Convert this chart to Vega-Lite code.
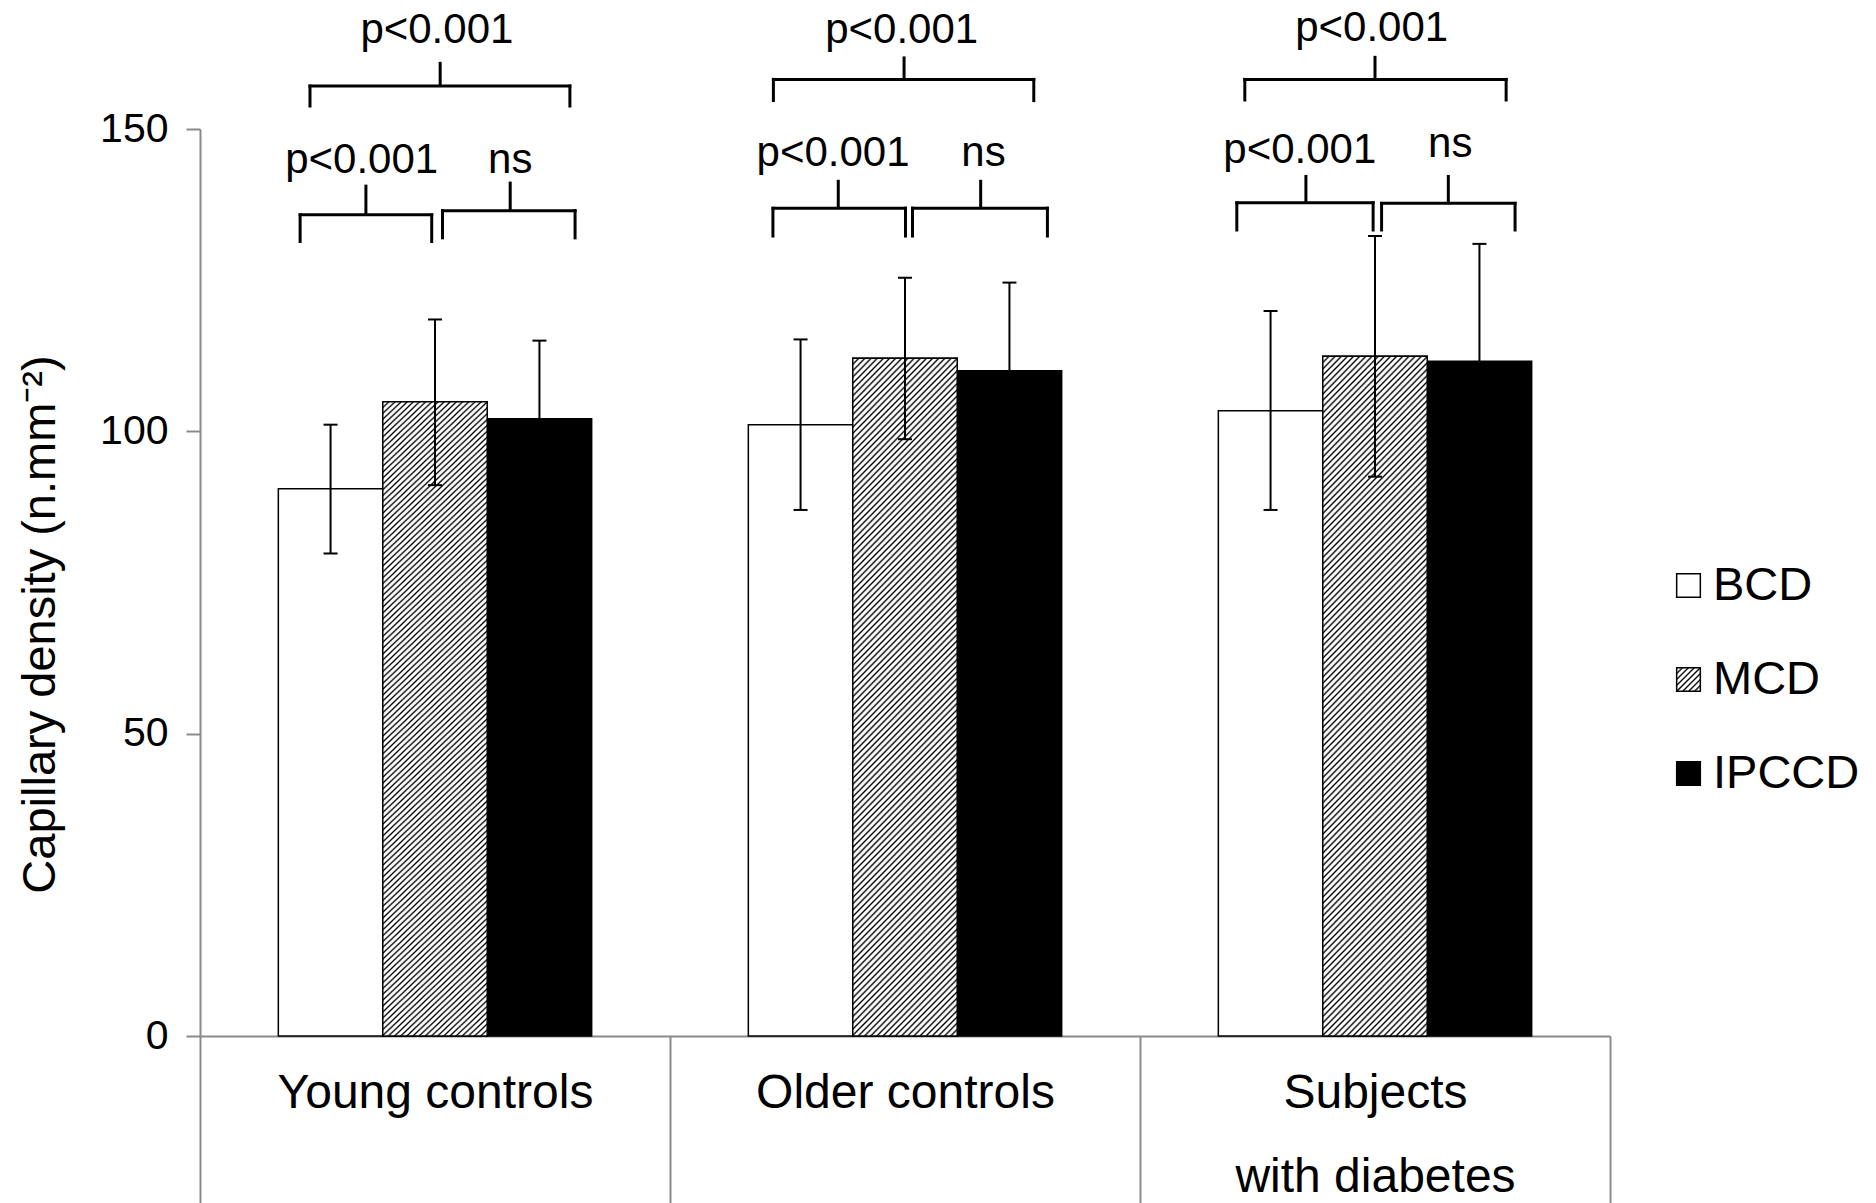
{
  "$schema": "https://vega.github.io/schema/vega-lite/v6.json",
  "width": 1410,
  "height": 907,
  "autosize": {"type": "none"},
  "padding": {"left": 200, "top": 129, "right": 266, "bottom": 167},
  "background": "white",
  "config": {"view": {"stroke": null}, "font": "Liberation Sans"},
  "datasets": {
    "bars": [
      {"group": "Young controls", "measure": "BCD", "value": 90.5, "lo": 79.8, "hi": 101.1},
      {"group": "Young controls", "measure": "MCD", "value": 104.9, "lo": 91.1, "hi": 118.5},
      {"group": "Young controls", "measure": "IPCCD", "value": 102.1, "lo": 89.2, "hi": 115.0},
      {"group": "Older controls", "measure": "BCD", "value": 101.1, "lo": 87.0, "hi": 115.2},
      {"group": "Older controls", "measure": "MCD", "value": 112.1, "lo": 98.7, "hi": 125.4},
      {"group": "Older controls", "measure": "IPCCD", "value": 110.0, "lo": 95.4, "hi": 124.6},
      {"group": "Subjects with diabetes", "measure": "BCD", "value": 103.4, "lo": 87.0, "hi": 119.9},
      {"group": "Subjects with diabetes", "measure": "MCD", "value": 112.4, "lo": 92.5, "hi": 132.3},
      {"group": "Subjects with diabetes", "measure": "IPCCD", "value": 111.6, "lo": 92.2, "hi": 131.0}
    ],
    "brackets": [
      {"x0": 0.234, "x1": 0.787, "xm": 0.511, "yb": 153.8, "yh": 157.1, "yt": 161.1, "label": "p<0.001", "lx": 0.504, "ly": 164.3},
      {"x0": 0.213, "x1": 0.493, "xm": 0.353, "yb": 131.4, "yh": 135.8, "yt": 140.8, "label": "p<0.001", "lx": 0.344, "ly": 142.7},
      {"x0": 0.516, "x1": 0.798, "xm": 0.660, "yb": 132.0, "yh": 136.5, "yt": 141.3, "label": "ns", "lx": 0.660, "ly": 142.7},
      {"x0": 1.220, "x1": 1.774, "xm": 1.498, "yb": 154.7, "yh": 158.2, "yt": 162.0, "label": "p<0.001", "lx": 1.493, "ly": 164.3},
      {"x0": 1.219, "x1": 1.501, "xm": 1.358, "yb": 132.3, "yh": 136.9, "yt": 141.6, "label": "p<0.001", "lx": 1.347, "ly": 143.8},
      {"x0": 1.516, "x1": 1.803, "xm": 1.661, "yb": 132.3, "yh": 136.9, "yt": 141.6, "label": "ns", "lx": 1.667, "ly": 143.8},
      {"x0": 2.223, "x1": 2.779, "xm": 2.500, "yb": 154.8, "yh": 158.2, "yt": 162.1, "label": "p<0.001", "lx": 2.493, "ly": 164.5},
      {"x0": 2.206, "x1": 2.496, "xm": 2.353, "yb": 133.3, "yh": 137.8, "yt": 142.4, "label": "p<0.001", "lx": 2.340, "ly": 144.3},
      {"x0": 2.514, "x1": 2.798, "xm": 2.656, "yb": 133.3, "yh": 137.7, "yt": 142.4, "label": "ns", "lx": 2.660, "ly": 145.4}
    ]
  },
  "layer": [
    {
      "data": {"name": "bars"},
      "encoding": {
        "x": {
          "field": "group", "type": "nominal",
          "scale": {"domain": ["Young controls", "Older controls", "Subjects with diabetes"], "paddingInner": 0, "paddingOuter": 0},
          "axis": {
            "title": null, "labelFontSize": 48, "labelColor": "black", "labelAngle": 0,
            "tickSize": 167, "tickBand": "extent", "tickColor": "#8a8a8a", "tickWidth": 2,
            "domainColor": "#8a8a8a", "domainWidth": 2, "labelPadding": -134, "labelLineHeight": 84,
            "labelBaseline": "top", "labelLimit": 800, "labelOverlap": false,
            "labelExpr": "datum.value == 'Subjects with diabetes' ? ['Subjects', 'with diabetes'] : datum.label"
          }
        },
        "xOffset": {
          "field": "measure", "type": "nominal",
          "scale": {"domain": ["BCD", "MCD", "IPCCD"], "paddingInner": 0, "paddingOuter": 0.75}
        }
      },
      "layer": [
        {
          "mark": {"type": "bar", "stroke": "black", "strokeWidth": 1.5},
          "encoding": {
            "y": {
              "field": "value", "type": "quantitative", "title": "Capillary density (n.mm⁻²)",
              "scale": {"domain": [0, 150], "nice": false},
              "axis": {
                "values": [0, 50, 100, 150],
                "titleFontSize": 47, "titleFontWeight": "normal", "titleColor": "black", "titlePadding": 35, "titleY": 495,
                "labelFontSize": 41, "labelColor": "black", "labelPadding": 18,
                "tickSize": 14, "tickColor": "#8a8a8a", "tickWidth": 2,
                "domainColor": "#8a8a8a", "domainWidth": 2, "grid": false
              }
            },
            "color": {
              "field": "measure", "type": "nominal",
              "scale": {
                "domain": ["BCD", "MCD", "IPCCD"],
                "range": [
                  "#ffffff",
                  {"expr": "{gradient:'linear',x1:0,y1:0,x2:1,y2:1,stops:[{offset:0,color:'#000'},{offset:0.04,color:'#fff'},{offset:0.085,color:'#fff'},{offset:0.125,color:'#000'},{offset:0.165,color:'#fff'},{offset:0.21,color:'#fff'},{offset:0.25,color:'#000'},{offset:0.29,color:'#fff'},{offset:0.335,color:'#fff'},{offset:0.375,color:'#000'},{offset:0.415,color:'#fff'},{offset:0.46,color:'#fff'},{offset:0.5,color:'#000'},{offset:0.54,color:'#fff'},{offset:0.585,color:'#fff'},{offset:0.625,color:'#000'},{offset:0.665,color:'#fff'},{offset:0.71,color:'#fff'},{offset:0.75,color:'#000'},{offset:0.79,color:'#fff'},{offset:0.835,color:'#fff'},{offset:0.875,color:'#000'},{offset:0.915,color:'#fff'},{offset:0.96,color:'#fff'},{offset:1,color:'#000'}]}"},
                  "#000000"
                ]
              },
              "legend": {
                "orient": "none", "legendX": 1465, "legendY": 433, "title": null,
                "labelFontSize": 47, "labelColor": "black", "labelLimit": 400, "labelOffset": 1,
                "symbolType": "square", "symbolSize": 560, "symbolStrokeColor": "black",
                "symbolStrokeWidth": 1.5, "symbolOpacity": 1, "rowPadding": 46, "padding": 0,
                "encode": {
                  "symbols": {
                    "update": {
                      "stroke": {"value": "black"},
                      "strokeWidth": {"value": 1.5},
                      "opacity": {"value": 1}
                    }
                  }
                }
              }
            }
          }
        },
        {
          "transform": [{"filter": "datum.measure === 'MCD'"}],
          "mark": {"type": "bar", "stroke": "black", "strokeWidth": 1.5,
            "fill": {"gradient": "linear", "x1": 0, "y1": 0, "x2": 0.1772, "y2": 1.1286, "stops": [
{"offset":0,"color":"#000"},{"offset":0.0025,"color":"#fff"},{"offset":0.0055,"color":"#fff"},
{"offset":0.008,"color":"#000"},{"offset":0.0105,"color":"#fff"},{"offset":0.0135,"color":"#fff"},
{"offset":0.016,"color":"#000"},{"offset":0.0185,"color":"#fff"},{"offset":0.0215,"color":"#fff"},
{"offset":0.024,"color":"#000"},{"offset":0.0265,"color":"#fff"},{"offset":0.0295,"color":"#fff"},
{"offset":0.032,"color":"#000"},{"offset":0.0345,"color":"#fff"},{"offset":0.0375,"color":"#fff"},
{"offset":0.04,"color":"#000"},{"offset":0.0425,"color":"#fff"},{"offset":0.0455,"color":"#fff"},
{"offset":0.048,"color":"#000"},{"offset":0.0505,"color":"#fff"},{"offset":0.0535,"color":"#fff"},
{"offset":0.056,"color":"#000"},{"offset":0.0585,"color":"#fff"},{"offset":0.0615,"color":"#fff"},
{"offset":0.064,"color":"#000"},{"offset":0.0665,"color":"#fff"},{"offset":0.0695,"color":"#fff"},
{"offset":0.072,"color":"#000"},{"offset":0.0745,"color":"#fff"},{"offset":0.0775,"color":"#fff"},
{"offset":0.08,"color":"#000"},{"offset":0.0825,"color":"#fff"},{"offset":0.0855,"color":"#fff"},
{"offset":0.088,"color":"#000"},{"offset":0.0905,"color":"#fff"},{"offset":0.0935,"color":"#fff"},
{"offset":0.096,"color":"#000"},{"offset":0.0985,"color":"#fff"},{"offset":0.1015,"color":"#fff"},
{"offset":0.104,"color":"#000"},{"offset":0.1065,"color":"#fff"},{"offset":0.1095,"color":"#fff"},
{"offset":0.112,"color":"#000"},{"offset":0.1145,"color":"#fff"},{"offset":0.1175,"color":"#fff"},
{"offset":0.12,"color":"#000"},{"offset":0.1225,"color":"#fff"},{"offset":0.1255,"color":"#fff"},
{"offset":0.128,"color":"#000"},{"offset":0.1305,"color":"#fff"},{"offset":0.1335,"color":"#fff"},
{"offset":0.136,"color":"#000"},{"offset":0.1385,"color":"#fff"},{"offset":0.1415,"color":"#fff"},
{"offset":0.144,"color":"#000"},{"offset":0.1465,"color":"#fff"},{"offset":0.1495,"color":"#fff"},
{"offset":0.152,"color":"#000"},{"offset":0.1545,"color":"#fff"},{"offset":0.1575,"color":"#fff"},
{"offset":0.16,"color":"#000"},{"offset":0.1625,"color":"#fff"},{"offset":0.1655,"color":"#fff"},
{"offset":0.168,"color":"#000"},{"offset":0.1705,"color":"#fff"},{"offset":0.1735,"color":"#fff"},
{"offset":0.176,"color":"#000"},{"offset":0.1785,"color":"#fff"},{"offset":0.1815,"color":"#fff"},
{"offset":0.184,"color":"#000"},{"offset":0.1865,"color":"#fff"},{"offset":0.1895,"color":"#fff"},
{"offset":0.192,"color":"#000"},{"offset":0.1945,"color":"#fff"},{"offset":0.1975,"color":"#fff"},
{"offset":0.2,"color":"#000"},{"offset":0.2025,"color":"#fff"},{"offset":0.2055,"color":"#fff"},
{"offset":0.208,"color":"#000"},{"offset":0.2105,"color":"#fff"},{"offset":0.2135,"color":"#fff"},
{"offset":0.216,"color":"#000"},{"offset":0.2185,"color":"#fff"},{"offset":0.2215,"color":"#fff"},
{"offset":0.224,"color":"#000"},{"offset":0.2265,"color":"#fff"},{"offset":0.2295,"color":"#fff"},
{"offset":0.232,"color":"#000"},{"offset":0.2345,"color":"#fff"},{"offset":0.2375,"color":"#fff"},
{"offset":0.24,"color":"#000"},{"offset":0.2425,"color":"#fff"},{"offset":0.2455,"color":"#fff"},
{"offset":0.248,"color":"#000"},{"offset":0.2505,"color":"#fff"},{"offset":0.2535,"color":"#fff"},
{"offset":0.256,"color":"#000"},{"offset":0.2585,"color":"#fff"},{"offset":0.2615,"color":"#fff"},
{"offset":0.264,"color":"#000"},{"offset":0.2665,"color":"#fff"},{"offset":0.2695,"color":"#fff"},
{"offset":0.272,"color":"#000"},{"offset":0.2745,"color":"#fff"},{"offset":0.2775,"color":"#fff"},
{"offset":0.28,"color":"#000"},{"offset":0.2825,"color":"#fff"},{"offset":0.2855,"color":"#fff"},
{"offset":0.288,"color":"#000"},{"offset":0.2905,"color":"#fff"},{"offset":0.2935,"color":"#fff"},
{"offset":0.296,"color":"#000"},{"offset":0.2985,"color":"#fff"},{"offset":0.3015,"color":"#fff"},
{"offset":0.304,"color":"#000"},{"offset":0.3065,"color":"#fff"},{"offset":0.3095,"color":"#fff"},
{"offset":0.312,"color":"#000"},{"offset":0.3145,"color":"#fff"},{"offset":0.3175,"color":"#fff"},
{"offset":0.32,"color":"#000"},{"offset":0.3225,"color":"#fff"},{"offset":0.3255,"color":"#fff"},
{"offset":0.328,"color":"#000"},{"offset":0.3305,"color":"#fff"},{"offset":0.3335,"color":"#fff"},
{"offset":0.336,"color":"#000"},{"offset":0.3385,"color":"#fff"},{"offset":0.3415,"color":"#fff"},
{"offset":0.344,"color":"#000"},{"offset":0.3465,"color":"#fff"},{"offset":0.3495,"color":"#fff"},
{"offset":0.352,"color":"#000"},{"offset":0.3545,"color":"#fff"},{"offset":0.3575,"color":"#fff"},
{"offset":0.36,"color":"#000"},{"offset":0.3625,"color":"#fff"},{"offset":0.3655,"color":"#fff"},
{"offset":0.368,"color":"#000"},{"offset":0.3705,"color":"#fff"},{"offset":0.3735,"color":"#fff"},
{"offset":0.376,"color":"#000"},{"offset":0.3785,"color":"#fff"},{"offset":0.3815,"color":"#fff"},
{"offset":0.384,"color":"#000"},{"offset":0.3865,"color":"#fff"},{"offset":0.3895,"color":"#fff"},
{"offset":0.392,"color":"#000"},{"offset":0.3945,"color":"#fff"},{"offset":0.3975,"color":"#fff"},
{"offset":0.4,"color":"#000"},{"offset":0.4025,"color":"#fff"},{"offset":0.4055,"color":"#fff"},
{"offset":0.408,"color":"#000"},{"offset":0.4105,"color":"#fff"},{"offset":0.4135,"color":"#fff"},
{"offset":0.416,"color":"#000"},{"offset":0.4185,"color":"#fff"},{"offset":0.4215,"color":"#fff"},
{"offset":0.424,"color":"#000"},{"offset":0.4265,"color":"#fff"},{"offset":0.4295,"color":"#fff"},
{"offset":0.432,"color":"#000"},{"offset":0.4345,"color":"#fff"},{"offset":0.4375,"color":"#fff"},
{"offset":0.44,"color":"#000"},{"offset":0.4425,"color":"#fff"},{"offset":0.4455,"color":"#fff"},
{"offset":0.448,"color":"#000"},{"offset":0.4505,"color":"#fff"},{"offset":0.4535,"color":"#fff"},
{"offset":0.456,"color":"#000"},{"offset":0.4585,"color":"#fff"},{"offset":0.4615,"color":"#fff"},
{"offset":0.464,"color":"#000"},{"offset":0.4665,"color":"#fff"},{"offset":0.4695,"color":"#fff"},
{"offset":0.472,"color":"#000"},{"offset":0.4745,"color":"#fff"},{"offset":0.4775,"color":"#fff"},
{"offset":0.48,"color":"#000"},{"offset":0.4825,"color":"#fff"},{"offset":0.4855,"color":"#fff"},
{"offset":0.488,"color":"#000"},{"offset":0.4905,"color":"#fff"},{"offset":0.4935,"color":"#fff"},
{"offset":0.496,"color":"#000"},{"offset":0.4985,"color":"#fff"},{"offset":0.5015,"color":"#fff"},
{"offset":0.504,"color":"#000"},{"offset":0.5065,"color":"#fff"},{"offset":0.5095,"color":"#fff"},
{"offset":0.512,"color":"#000"},{"offset":0.5145,"color":"#fff"},{"offset":0.5175,"color":"#fff"},
{"offset":0.52,"color":"#000"},{"offset":0.5225,"color":"#fff"},{"offset":0.5255,"color":"#fff"},
{"offset":0.528,"color":"#000"},{"offset":0.5305,"color":"#fff"},{"offset":0.5335,"color":"#fff"},
{"offset":0.536,"color":"#000"},{"offset":0.5385,"color":"#fff"},{"offset":0.5415,"color":"#fff"},
{"offset":0.544,"color":"#000"},{"offset":0.5465,"color":"#fff"},{"offset":0.5495,"color":"#fff"},
{"offset":0.552,"color":"#000"},{"offset":0.5545,"color":"#fff"},{"offset":0.5575,"color":"#fff"},
{"offset":0.56,"color":"#000"},{"offset":0.5625,"color":"#fff"},{"offset":0.5655,"color":"#fff"},
{"offset":0.568,"color":"#000"},{"offset":0.5705,"color":"#fff"},{"offset":0.5735,"color":"#fff"},
{"offset":0.576,"color":"#000"},{"offset":0.5785,"color":"#fff"},{"offset":0.5815,"color":"#fff"},
{"offset":0.584,"color":"#000"},{"offset":0.5865,"color":"#fff"},{"offset":0.5895,"color":"#fff"},
{"offset":0.592,"color":"#000"},{"offset":0.5945,"color":"#fff"},{"offset":0.5975,"color":"#fff"},
{"offset":0.6,"color":"#000"},{"offset":0.6025,"color":"#fff"},{"offset":0.6055,"color":"#fff"},
{"offset":0.608,"color":"#000"},{"offset":0.6105,"color":"#fff"},{"offset":0.6135,"color":"#fff"},
{"offset":0.616,"color":"#000"},{"offset":0.6185,"color":"#fff"},{"offset":0.6215,"color":"#fff"},
{"offset":0.624,"color":"#000"},{"offset":0.6265,"color":"#fff"},{"offset":0.6295,"color":"#fff"},
{"offset":0.632,"color":"#000"},{"offset":0.6345,"color":"#fff"},{"offset":0.6375,"color":"#fff"},
{"offset":0.64,"color":"#000"},{"offset":0.6425,"color":"#fff"},{"offset":0.6455,"color":"#fff"},
{"offset":0.648,"color":"#000"},{"offset":0.6505,"color":"#fff"},{"offset":0.6535,"color":"#fff"},
{"offset":0.656,"color":"#000"},{"offset":0.6585,"color":"#fff"},{"offset":0.6615,"color":"#fff"},
{"offset":0.664,"color":"#000"},{"offset":0.6665,"color":"#fff"},{"offset":0.6695,"color":"#fff"},
{"offset":0.672,"color":"#000"},{"offset":0.6745,"color":"#fff"},{"offset":0.6775,"color":"#fff"},
{"offset":0.68,"color":"#000"},{"offset":0.6825,"color":"#fff"},{"offset":0.6855,"color":"#fff"},
{"offset":0.688,"color":"#000"},{"offset":0.6905,"color":"#fff"},{"offset":0.6935,"color":"#fff"},
{"offset":0.696,"color":"#000"},{"offset":0.6985,"color":"#fff"},{"offset":0.7015,"color":"#fff"},
{"offset":0.704,"color":"#000"},{"offset":0.7065,"color":"#fff"},{"offset":0.7095,"color":"#fff"},
{"offset":0.712,"color":"#000"},{"offset":0.7145,"color":"#fff"},{"offset":0.7175,"color":"#fff"},
{"offset":0.72,"color":"#000"},{"offset":0.7225,"color":"#fff"},{"offset":0.7255,"color":"#fff"},
{"offset":0.728,"color":"#000"},{"offset":0.7305,"color":"#fff"},{"offset":0.7335,"color":"#fff"},
{"offset":0.736,"color":"#000"},{"offset":0.7385,"color":"#fff"},{"offset":0.7415,"color":"#fff"},
{"offset":0.744,"color":"#000"},{"offset":0.7465,"color":"#fff"},{"offset":0.7495,"color":"#fff"},
{"offset":0.752,"color":"#000"},{"offset":0.7545,"color":"#fff"},{"offset":0.7575,"color":"#fff"},
{"offset":0.76,"color":"#000"},{"offset":0.7625,"color":"#fff"},{"offset":0.7655,"color":"#fff"},
{"offset":0.768,"color":"#000"},{"offset":0.7705,"color":"#fff"},{"offset":0.7735,"color":"#fff"},
{"offset":0.776,"color":"#000"},{"offset":0.7785,"color":"#fff"},{"offset":0.7815,"color":"#fff"},
{"offset":0.784,"color":"#000"},{"offset":0.7865,"color":"#fff"},{"offset":0.7895,"color":"#fff"},
{"offset":0.792,"color":"#000"},{"offset":0.7945,"color":"#fff"},{"offset":0.7975,"color":"#fff"},
{"offset":0.8,"color":"#000"},{"offset":0.8025,"color":"#fff"},{"offset":0.8055,"color":"#fff"},
{"offset":0.808,"color":"#000"},{"offset":0.8105,"color":"#fff"},{"offset":0.8135,"color":"#fff"},
{"offset":0.816,"color":"#000"},{"offset":0.8185,"color":"#fff"},{"offset":0.8215,"color":"#fff"},
{"offset":0.824,"color":"#000"},{"offset":0.8265,"color":"#fff"},{"offset":0.8295,"color":"#fff"},
{"offset":0.832,"color":"#000"},{"offset":0.8345,"color":"#fff"},{"offset":0.8375,"color":"#fff"},
{"offset":0.84,"color":"#000"},{"offset":0.8425,"color":"#fff"},{"offset":0.8455,"color":"#fff"},
{"offset":0.848,"color":"#000"},{"offset":0.8505,"color":"#fff"},{"offset":0.8535,"color":"#fff"},
{"offset":0.856,"color":"#000"},{"offset":0.8585,"color":"#fff"},{"offset":0.8615,"color":"#fff"},
{"offset":0.864,"color":"#000"},{"offset":0.8665,"color":"#fff"},{"offset":0.8695,"color":"#fff"},
{"offset":0.872,"color":"#000"},{"offset":0.8745,"color":"#fff"},{"offset":0.8775,"color":"#fff"},
{"offset":0.88,"color":"#000"},{"offset":0.8825,"color":"#fff"},{"offset":0.8855,"color":"#fff"},
{"offset":0.888,"color":"#000"},{"offset":0.8905,"color":"#fff"},{"offset":0.8935,"color":"#fff"},
{"offset":0.896,"color":"#000"},{"offset":0.8985,"color":"#fff"},{"offset":0.9015,"color":"#fff"},
{"offset":0.904,"color":"#000"},{"offset":0.9065,"color":"#fff"},{"offset":0.9095,"color":"#fff"},
{"offset":0.912,"color":"#000"},{"offset":0.9145,"color":"#fff"},{"offset":0.9175,"color":"#fff"},
{"offset":0.92,"color":"#000"},{"offset":0.9225,"color":"#fff"},{"offset":0.9255,"color":"#fff"},
{"offset":0.928,"color":"#000"},{"offset":0.9305,"color":"#fff"},{"offset":0.9335,"color":"#fff"},
{"offset":0.936,"color":"#000"},{"offset":0.9385,"color":"#fff"},{"offset":0.9415,"color":"#fff"},
{"offset":0.944,"color":"#000"},{"offset":0.9465,"color":"#fff"},{"offset":0.9495,"color":"#fff"},
{"offset":0.952,"color":"#000"},{"offset":0.9545,"color":"#fff"},{"offset":0.9575,"color":"#fff"},
{"offset":0.96,"color":"#000"},{"offset":0.9625,"color":"#fff"},{"offset":0.9655,"color":"#fff"},
{"offset":0.968,"color":"#000"},{"offset":0.9705,"color":"#fff"},{"offset":0.9735,"color":"#fff"},
{"offset":0.976,"color":"#000"},{"offset":0.9785,"color":"#fff"},{"offset":0.9815,"color":"#fff"},
{"offset":0.984,"color":"#000"},{"offset":0.9865,"color":"#fff"},{"offset":0.9895,"color":"#fff"},
{"offset":0.992,"color":"#000"},{"offset":0.9945,"color":"#fff"},{"offset":0.9975,"color":"#fff"},
{"offset":1,"color":"#000"}
            ]}
          },
          "encoding": {
            "y": {"field": "value", "type": "quantitative", "title": "Capillary density (n.mm⁻²)", "scale": {"domain": [0, 150], "nice": false}}
          }
        },
        {
          "mark": {"type": "rule", "color": "black", "strokeWidth": 2},
          "encoding": {
            "y": {"field": "lo", "type": "quantitative", "title": "Capillary density (n.mm⁻²)", "scale": {"domain": [0, 150], "nice": false}},
            "y2": {"field": "hi"}
          }
        },
        {
          "mark": {"type": "tick", "color": "black", "size": 14, "thickness": 2, "opacity": 1},
          "encoding": {
            "y": {"field": "hi", "type": "quantitative", "title": "Capillary density (n.mm⁻²)", "scale": {"domain": [0, 150], "nice": false}}
          }
        },
        {
          "mark": {"type": "tick", "color": "black", "size": 14, "thickness": 2, "opacity": 1},
          "encoding": {
            "y": {"field": "lo", "type": "quantitative", "title": "Capillary density (n.mm⁻²)", "scale": {"domain": [0, 150], "nice": false}}
          }
        }
      ]
    },
    {
      "data": {"name": "brackets"},
      "layer": [
        {
          "mark": {"type": "rule", "color": "black", "strokeWidth": 3, "strokeCap": "square"},
          "encoding": {
            "x": {"field": "x0", "type": "quantitative", "scale": {"domain": [0, 3], "nice": false, "zero": false}, "axis": null},
            "x2": {"field": "x1"},
            "y": {"field": "yh", "type": "quantitative", "title": "Capillary density (n.mm⁻²)", "scale": {"domain": [0, 150], "nice": false}}
          }
        },
        {
          "mark": {"type": "rule", "color": "black", "strokeWidth": 3, "strokeCap": "square"},
          "encoding": {
            "x": {"field": "x0", "type": "quantitative", "scale": {"domain": [0, 3], "nice": false, "zero": false}, "axis": null},
            "y": {"field": "yb", "type": "quantitative", "title": "Capillary density (n.mm⁻²)", "scale": {"domain": [0, 150], "nice": false}},
            "y2": {"field": "yh"}
          }
        },
        {
          "mark": {"type": "rule", "color": "black", "strokeWidth": 3, "strokeCap": "square"},
          "encoding": {
            "x": {"field": "x1", "type": "quantitative", "scale": {"domain": [0, 3], "nice": false, "zero": false}, "axis": null},
            "y": {"field": "yb", "type": "quantitative", "title": "Capillary density (n.mm⁻²)", "scale": {"domain": [0, 150], "nice": false}},
            "y2": {"field": "yh"}
          }
        },
        {
          "mark": {"type": "rule", "color": "black", "strokeWidth": 3, "strokeCap": "butt"},
          "encoding": {
            "x": {"field": "xm", "type": "quantitative", "scale": {"domain": [0, 3], "nice": false, "zero": false}, "axis": null},
            "y": {"field": "yh", "type": "quantitative", "title": "Capillary density (n.mm⁻²)", "scale": {"domain": [0, 150], "nice": false}},
            "y2": {"field": "yt"}
          }
        },
        {
          "mark": {"type": "text", "color": "black", "fontSize": 42, "align": "center", "baseline": "alphabetic", "font": "Liberation Sans"},
          "encoding": {
            "x": {"field": "lx", "type": "quantitative", "scale": {"domain": [0, 3], "nice": false, "zero": false}, "axis": null},
            "y": {"field": "ly", "type": "quantitative", "title": "Capillary density (n.mm⁻²)", "scale": {"domain": [0, 150], "nice": false}},
            "text": {"field": "label"}
          }
        }
      ]
    }
  ],
  "resolve": {"scale": {"x": "independent"}}
}
